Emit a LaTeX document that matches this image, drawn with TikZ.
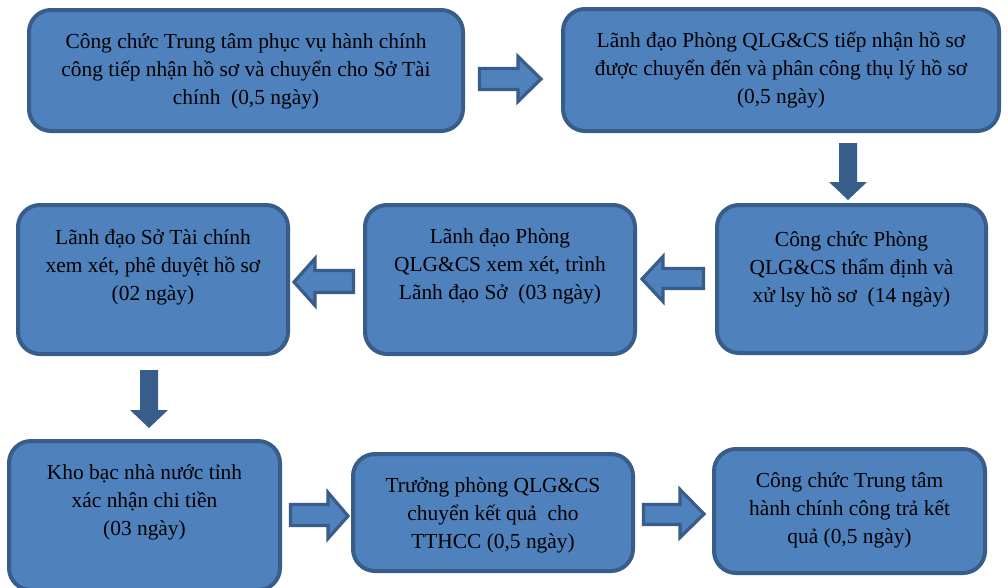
\documentclass[tikz,border=0pt]{standalone}
\usepackage{fontspec}
\setmainfont{Liberation Serif}
\definecolor{boxfill}{RGB}{79,129,189}
\definecolor{boxline}{RGB}{56,93,138}
\begin{document}
\begin{tikzpicture}[x=1pt,y=-1pt,
  stepbox/.style={draw=boxline, line width=4pt, fill=boxfill, rounded corners=22pt, inner sep=0pt},
  steptext/.style={anchor=base, align=center, inner sep=0pt, text=black,
    font=\fontsize{21.4}{28}\selectfont},
  harrow/.style={draw=boxline, line width=3.2pt, fill=boxfill, line join=miter},
  varrow/.style={fill=boxline, draw=none}]
\useasboundingbox[fill=white] (0,0) rectangle (1008,587);

% boxes
\node[stepbox, minimum width=434pt, minimum height=121pt] (b1) at (246,70.5) {};
\node[stepbox, minimum width=436pt, minimum height=122pt] (b2) at (781,70) {};
\node[stepbox, minimum width=269pt, minimum height=148pt] (b3) at (851.5,279) {};
\node[stepbox, minimum width=270pt, minimum height=149pt] (b4) at (500,279.5) {};
\node[stepbox, minimum width=270pt, minimum height=149pt] (b5) at (153,279.5) {};
\node[stepbox, minimum width=271pt, minimum height=149pt] (b6) at (144.5,515.5) {};
\node[stepbox, minimum width=280pt, minimum height=117pt] (b7) at (493,512.5) {};
\node[stepbox, minimum width=271pt, minimum height=124pt] (b8) at (849.5,511) {};

% texts (anchored at the baseline of the last line)
\node[steptext] (t1) at (246,104) {Công chức Trung tâm phục vụ hành chính\\công tiếp nhận hồ sơ và chuyển cho Sở Tài\\chính\ \ (0,5 ngày)};
\node[steptext] (t2) at (781,103) {Lãnh đạo Phòng QLG\&CS tiếp nhận hồ sơ\\được chuyển đến và phân công thụ lý hồ sơ\\(0,5 ngày)};
\node[steptext] (t3) at (851.5,302) {Công chức Phòng\\QLG\&CS thẩm định và\\xử lsy hồ sơ\ \ (14 ngày)};
\node[steptext] (t4) at (500,299) {Lãnh đạo Phòng\\QLG\&CS xem xét, trình\\Lãnh đạo Sở\ \ (03 ngày)};
\node[steptext] (t5) at (153,300) {Lãnh đạo Sở Tài chính\\xem xét, phê duyệt hồ sơ\\(02 ngày)};
\node[steptext] (t6) at (144.5,535) {Kho bạc nhà nước tỉnh\\xác nhận chi tiền\\(03 ngày)};
\node[steptext] (t7) at (493,548) {Trưởng phòng QLG\&CS\\chuyển kết quả\ \ cho\\TTHCC (0,5 ngày)};
\node[steptext] (t8) at (849.5,543) {Công chức Trung tâm\\hành chính công trả kết\\quả (0,5 ngày)};

% block arrows (horizontal, outlined)
\draw[harrow] (479.5,68.5) -- (518,68.5) -- (518,56.5) -- (541,79) -- (518,101.5) -- (518,89.5) -- (479.5,89.5) -- cycle;
\draw[harrow] (703.5,268.5) -- (663,268.5) -- (663,256.5) -- (642,279) -- (663,301.5) -- (663,288.5) -- (703.5,288.5) -- cycle;
\draw[harrow] (353.5,270.5) -- (315,270.5) -- (315,258.5) -- (294,282) -- (315,305.5) -- (315,292.5) -- (353.5,292.5) -- cycle;
\draw[harrow] (290.5,504.5) -- (328,504.5) -- (328,492.5) -- (348,516) -- (328,538.5) -- (328,525.5) -- (290.5,525.5) -- cycle;
\draw[harrow] (643.5,504.5) -- (680,504.5) -- (680,489.5) -- (704,514) -- (680,537.5) -- (680,524.5) -- (643.5,524.5) -- cycle;

% block arrows (vertical, filled)
\fill[varrow] (839,143) -- (857,143) -- (857,182) -- (867,182) -- (848,200) -- (829,182) -- (839,182) -- cycle;
\fill[varrow] (140,370) -- (158,370) -- (158,410) -- (168,410) -- (149,428) -- (130,410) -- (140,410) -- cycle;
\end{tikzpicture}
\end{document}
